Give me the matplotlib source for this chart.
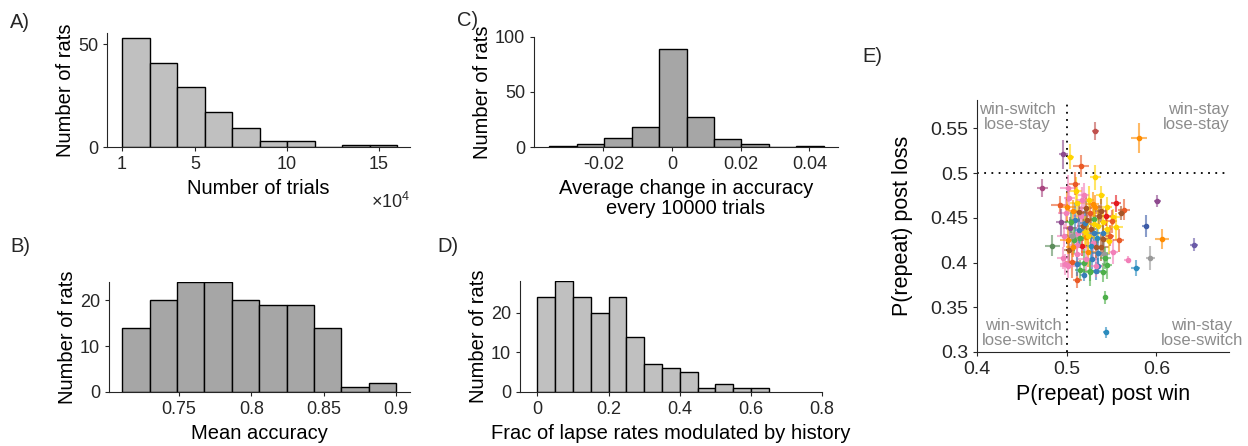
import numpy as np
import matplotlib
matplotlib.use("Agg")
import matplotlib.pyplot as plt

plt.rcParams['font.family'] = ['Liberation Sans', 'DejaVu Sans']
plt.rcParams['mathtext.fontset'] = 'custom'
plt.rcParams['mathtext.rm'] = 'Liberation Sans'
plt.rcParams['axes.edgecolor'] = '#262626'
plt.rcParams['xtick.color'] = '#262626'
plt.rcParams['ytick.color'] = '#262626'
plt.rcParams['text.color'] = '#262626'

# A) number of trials (x 1e4)
trials_edges = np.linspace(1, 16, 11)
trials_counts = [53, 41, 29, 17, 9, 3, 3, 0, 1, 1]

# B) mean accuracy
acc_edges = np.linspace(0.7108, 0.9, 11)
acc_counts = [14, 20, 24, 24, 20, 19, 19, 14, 1, 2]

# C) change in accuracy
chg_edges = np.linspace(-0.0358, 0.0442, 11)
chg_counts = [1, 3, 8, 18, 89, 27, 7, 3, 0, 1]

# D) fraction of lapse rates modulated by history
lapse_edges = np.linspace(0, 0.65, 14)
lapse_counts = [24, 28, 24, 20, 24, 14, 7, 6, 5, 1, 2, 1, 1]

# E) P(repeat) post win / post loss per rat
post_win = [
    0.532, 0.581, 0.496, 0.504, 0.516, 0.532, 0.473, 0.601, 0.588, 0.606,
    0.642, 0.593, 0.568, 0.577, 0.484, 0.492, 0.543, 0.544, 0.512, 0.519,
    0.555, 0.564, 0.561, 0.545, 0.538, 0.552, 0.526, 0.533, 0.540, 0.535,
    0.503, 0.512, 0.507, 0.521, 0.516, 0.509, 0.526, 0.531, 0.518, 0.504,
    0.527, 0.513, 0.535, 0.522, 0.508, 0.540, 0.529, 0.517, 0.503, 0.534,
    0.545, 0.524, 0.511, 0.538, 0.528, 0.519, 0.542, 0.506, 0.533, 0.547,
    0.515, 0.526, 0.501, 0.520, 0.514, 0.525, 0.532, 0.544, 0.550, 0.555,
    0.548, 0.510, 0.519, 0.499, 0.497, 0.494, 0.496, 0.500, 0.506, 0.523,
    0.530, 0.536, 0.541, 0.512, 0.520, 0.515, 0.527, 0.535, 0.543, 0.552,
    0.558, 0.541, 0.505, 0.530, 0.522, 0.512, 0.545, 0.507, 0.524, 0.533,
    0.501, 0.509, 0.517, 0.501, 0.498, 0.514, 0.529, 0.538]
post_loss = [
    0.547, 0.539, 0.521, 0.518, 0.508, 0.495, 0.483, 0.469, 0.441, 0.426,
    0.420, 0.405, 0.403, 0.394, 0.419, 0.464, 0.361, 0.322, 0.380, 0.386,
    0.466, 0.459, 0.455, 0.462, 0.475, 0.451, 0.391, 0.391, 0.389, 0.396,
    0.472, 0.466, 0.458, 0.461, 0.452, 0.447, 0.455, 0.449, 0.441, 0.439,
    0.437, 0.433, 0.441, 0.428, 0.425, 0.433, 0.422, 0.418, 0.414, 0.427,
    0.438, 0.412, 0.409, 0.417, 0.404, 0.399, 0.410, 0.401, 0.396, 0.424,
    0.392, 0.389, 0.396, 0.444, 0.457, 0.470, 0.462, 0.452, 0.446, 0.440,
    0.430, 0.480, 0.475, 0.455, 0.430, 0.445, 0.405, 0.462, 0.430, 0.448,
    0.433, 0.452, 0.445, 0.420, 0.434, 0.427, 0.418, 0.411, 0.405, 0.412,
    0.425, 0.426, 0.445, 0.443, 0.404, 0.398, 0.397, 0.417, 0.430, 0.417,
    0.483, 0.488, 0.470, 0.425, 0.398, 0.436, 0.465, 0.458]
win_err = [
    0.004, 0.009, 0.005, 0.004, 0.009, 0.006, 0.006, 0.004, 0.004, 0.008,
    0.004, 0.005, 0.004, 0.005, 0.008, 0.010, 0.003, 0.003, 0.005, 0.004,
    0.006, 0.007, 0.004, 0.006, 0.005, 0.007, 0.007, 0.006, 0.005, 0.004,
    0.006, 0.008, 0.005, 0.007, 0.009, 0.006, 0.010, 0.005, 0.007, 0.008,
    0.006, 0.009, 0.005, 0.007, 0.006, 0.008, 0.005, 0.010, 0.006, 0.007,
    0.005, 0.008, 0.006, 0.009, 0.007, 0.005, 0.006, 0.008, 0.007, 0.005,
    0.006, 0.007, 0.009, 0.005, 0.008, 0.006, 0.007, 0.005, 0.006, 0.008,
    0.005, 0.007, 0.006, 0.009, 0.008, 0.006, 0.007, 0.010, 0.006, 0.005,
    0.007, 0.006, 0.005, 0.008, 0.006, 0.009, 0.005, 0.007, 0.006, 0.005,
    0.006, 0.008, 0.007, 0.005, 0.009, 0.006, 0.005, 0.008, 0.007, 0.006,
    0.008, 0.006, 0.007, 0.009, 0.006, 0.005, 0.007, 0.006]
loss_err = [
    0.010, 0.017, 0.016, 0.014, 0.012, 0.014, 0.010, 0.007, 0.012, 0.011,
    0.007, 0.013, 0.004, 0.009, 0.012, 0.010, 0.007, 0.006, 0.009, 0.007,
    0.010, 0.012, 0.008, 0.011, 0.010, 0.009, 0.012, 0.010, 0.011, 0.009,
    0.014, 0.018, 0.012, 0.016, 0.011, 0.020, 0.013, 0.015, 0.017, 0.012,
    0.016, 0.013, 0.019, 0.012, 0.015, 0.014, 0.018, 0.011, 0.016, 0.013,
    0.012, 0.017, 0.014, 0.015, 0.011, 0.016, 0.013, 0.018, 0.012, 0.014,
    0.011, 0.015, 0.013, 0.017, 0.012, 0.016, 0.014, 0.011, 0.013, 0.015,
    0.012, 0.016, 0.014, 0.018, 0.013, 0.015, 0.012, 0.017, 0.014, 0.013,
    0.015, 0.012, 0.016, 0.014, 0.018, 0.011, 0.013, 0.015, 0.012, 0.014,
    0.013, 0.016, 0.012, 0.017, 0.014, 0.013, 0.015, 0.011, 0.016, 0.012,
    0.015, 0.013, 0.014, 0.016, 0.012, 0.015, 0.014, 0.013]
rat_colors = ("copyeympdo" "vaktuegteb" "renyyygbgb" "kyonkbegnp" "nkyogbkrnt"
              "yoknbgaeky" "ggkbnyorey" "eykkkpkoan" "bnykygtbgk" "engykbgoyn"
              "kekokbon")

palette = {'r': '#e41a1c', 'b': '#377eb8', 'g': '#4daf4a', 'p': '#8e4a8f',
           'o': '#ff8c00', 'y': '#ffd400', 'n': '#a65628', 'k': '#f27fb8',
           'a': '#999999', 't': '#2b8cbe', 'e': '#ea5a26', 'v': '#6a5aa8',
           'm': '#a8457f', 'd': '#3d5ca8', 'c': '#c0504d', 'u': '#5b8c5a'}

W, H = 1248, 446
fig = plt.figure(figsize=(W / 100, H / 100), dpi=100)

def px_axes(l, r, t, b):
    return fig.add_axes([l / W, 1 - b / H, (r - l) / W, (b - t) / H])

def style(ax):
    ax.spines['top'].set_visible(False)
    ax.spines['right'].set_visible(False)
    ax.tick_params(direction='out', length=3, width=0.8, labelsize=13)

def hist(ax, edges, counts, color):
    ax.bar(edges[:-1], counts, width=np.diff(edges), align='edge',
           color=color, edgecolor='black', linewidth=1.0)

light, dark = '#c0c0c0', '#a6a6a6'

# A
axA = px_axes(107, 410, 33, 147)
hist(axA, trials_edges, trials_counts, light)
axA.set_xlim(0.18, 16.7)
axA.set_ylim(0, 55.4)
axA.set_xticks([1, 5, 10, 15])
axA.set_yticks([0, 50])
axA.set_xlabel('Number of trials', fontsize=14.5, labelpad=4)
axA.set_ylabel('Number of rats', fontsize=14.5, labelpad=2)
axA.text(1.0, -0.48, r'$\times\mathregular{10^4}$', transform=axA.transAxes,
         ha='right', va='center', fontsize=13)
style(axA)

# B
axB = px_axes(109, 410, 282, 392)
hist(axB, acc_edges, acc_counts, dark)
axB.set_xlim(0.7016, 0.9097)
axB.set_ylim(0, 24)
axB.set_xticks([0.75, 0.8, 0.85, 0.9], ['0.75', '0.8', '0.85', '0.9'])
axB.set_yticks([0, 10, 20])
axB.set_xlabel('Mean accuracy', fontsize=14.5, labelpad=4)
axB.set_ylabel('Number of rats', fontsize=14.5, labelpad=2)
style(axB)

# C
axC = px_axes(534, 838, 37, 147)
hist(axC, chg_edges, chg_counts, dark)
axC.set_xlim(-0.0402, 0.0483)
axC.set_ylim(0, 100)
axC.set_xticks([-0.02, 0, 0.02, 0.04], ['-0.02', '0', '0.02', '0.04'])
axC.set_yticks([0, 50, 100])
axC.set_xlabel('Average change in accuracy\nevery 10000 trials', fontsize=14.5,
               labelpad=4, linespacing=1.1)
axC.set_ylabel('Number of rats', fontsize=14.5, labelpad=2)
style(axC)

# D
axD = px_axes(520, 822, 281, 392)
hist(axD, lapse_edges, lapse_counts, light)
axD.set_xlim(-0.049, 0.8)
axD.set_ylim(0, 28)
axD.set_xticks([0, 0.2, 0.4, 0.6, 0.8], ['0', '0.2', '0.4', '0.6', '0.8'])
axD.set_yticks([0, 10, 20])
axD.set_xlabel('Frac of lapse rates modulated by history', fontsize=14.5, labelpad=4)
axD.set_ylabel('Number of rats', fontsize=14.5, labelpad=2)
style(axD)

# E
axE = px_axes(977, 1229, 100, 352)
axE.axvline(0.5, color='black', linestyle=(0, (1, 3)), linewidth=1.3, zorder=1)
axE.axhline(0.5, color='black', linestyle=(0, (1, 3)), linewidth=1.3, zorder=1)
for xw, yl, ew, el, c in zip(post_win, post_loss, win_err, loss_err, rat_colors):
    col = palette[c]
    axE.errorbar(xw, yl, xerr=ew, yerr=el, fmt='none', ecolor=col,
                 elinewidth=1.5, alpha=0.6, zorder=2)
    axE.plot(xw, yl, 'o', color=col, ms=3, zorder=3)
axE.set_xlim(0.4, 0.681)
axE.set_ylim(0.3, 0.5816)
axE.set_xticks([0.4, 0.5, 0.6], ['0.4', '0.5', '0.6'])
axE.set_yticks([0.3, 0.35, 0.4, 0.45, 0.5, 0.55],
               ['0.3', '0.35', '0.4', '0.45', '0.5', '0.55'])
axE.set_xlabel('P(repeat) post win', fontsize=15.5, labelpad=4)
axE.set_ylabel('P(repeat) post loss', fontsize=15.5, labelpad=12)
style(axE)
axE.tick_params(labelsize=14)
gray = '#8c8c8c'
axE.text(0.4454, 0.5795, 'win-switch\nlose-stay', ha='center', va='top',
         color=gray, fontsize=12, linespacing=1.0)
axE.text(0.6817, 0.5795, 'win-stay\nlose-stay', ha='right', va='top',
         color=gray, fontsize=12, linespacing=1.0, multialignment='right')
axE.text(0.4515, 0.305, 'win-switch\nlose-switch', ha='center', va='bottom',
         color=gray, fontsize=12, linespacing=1.0)
axE.text(0.6507, 0.305, 'win-stay\nlose-switch', ha='center', va='bottom',
         color=gray, fontsize=12, linespacing=1.0, clip_on=False)

# panel letters
for lab, x, y in [('A)', 10, 22), ('C)', 457, 21), ('B)', 10, 246),
                  ('D)', 437, 246), ('E)', 862, 57)]:
    fig.text(x / W, 1 - y / H, lab, fontsize=14.5, ha='left', va='center')

fig.savefig('out.png', dpi=100)
